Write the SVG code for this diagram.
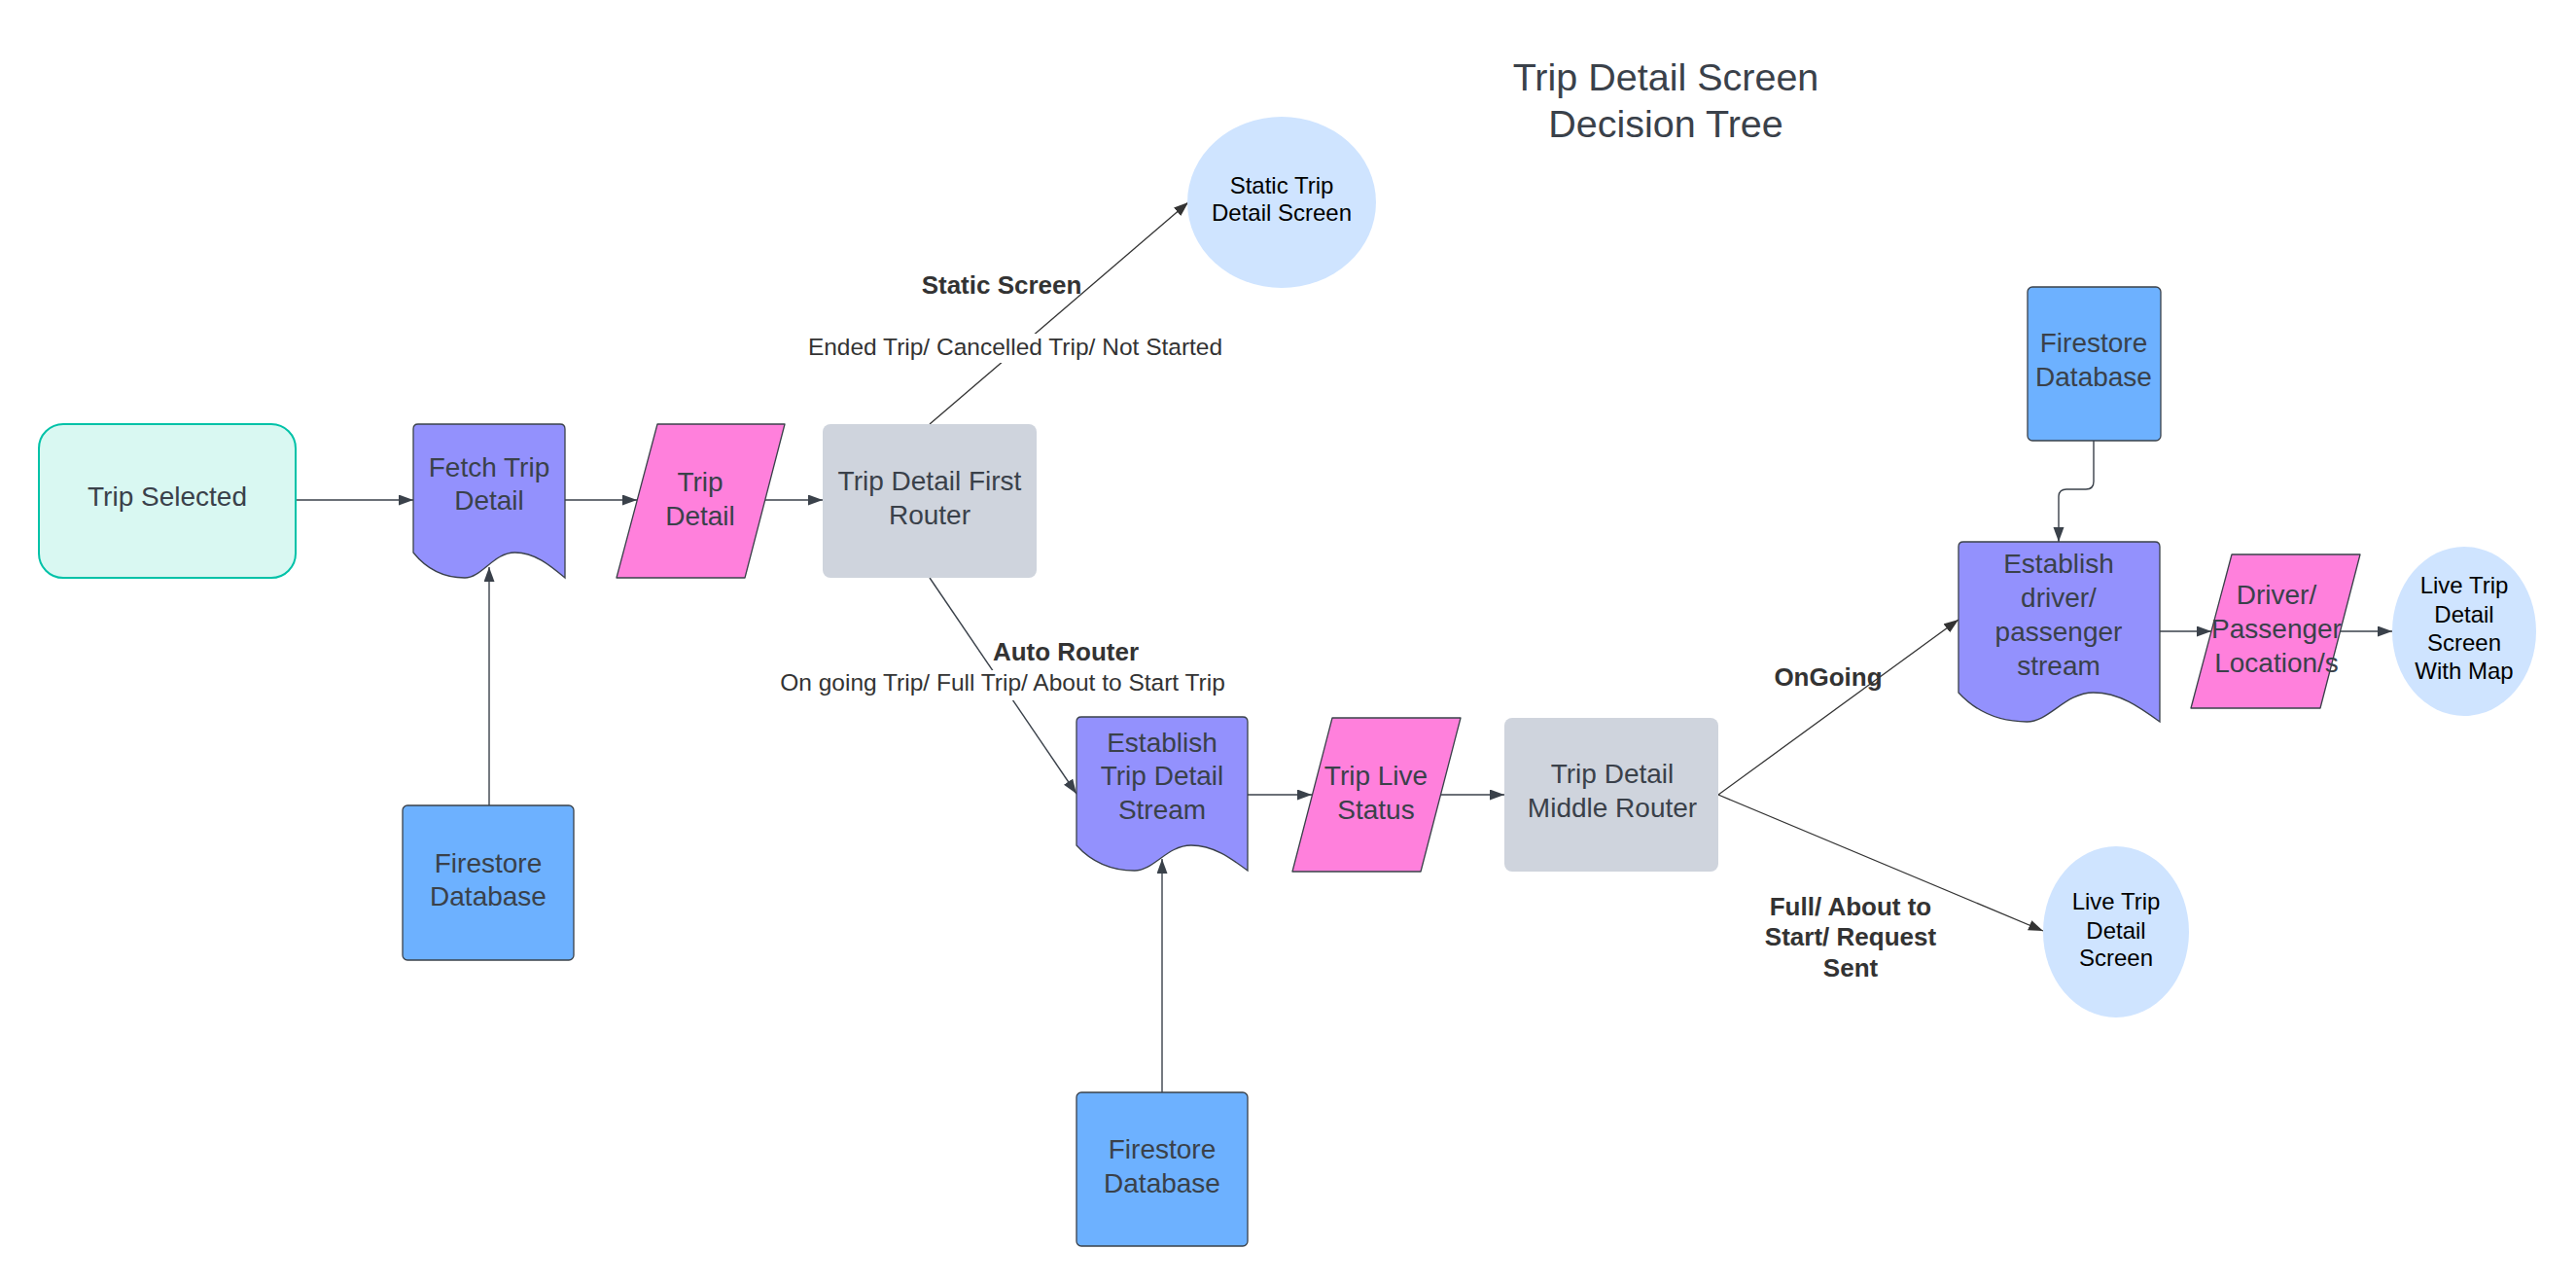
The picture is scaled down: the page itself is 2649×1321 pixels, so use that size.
<svg xmlns="http://www.w3.org/2000/svg" width="2649" height="1321" viewBox="0 0 2649 1321">
<style>
.bg{fill:#ffffff}
.t{font-family:"Liberation Sans",Arial,sans-serif;font-size:28px;fill:#3a414a;text-anchor:middle}
.te{font-family:"Liberation Sans",Arial,sans-serif;font-size:24px;fill:#000000;text-anchor:middle}
.lb{font-family:"Liberation Sans",Arial,sans-serif;font-size:26px;font-weight:bold;fill:#333333;text-anchor:middle}
.ln{font-family:"Liberation Sans",Arial,sans-serif;font-size:24.5px;fill:#333333;text-anchor:middle}
.title{font-family:"Liberation Sans",Arial,sans-serif;font-size:39.5px;fill:#3a414a;text-anchor:middle}
.doc{fill:#9391fd;stroke:#3a414a;stroke-width:1.3}
.para{fill:#ff80dc;stroke:#3a414a;stroke-width:1.3;stroke-linejoin:round}
.db{fill:#6db1ff;stroke:#3a414a;stroke-width:1.3}
.router{fill:#cfd4dd}
.ell{fill:#cfe4ff}
.c{fill:none;stroke:#3a414a;stroke-width:1.4}
.cb{fill:none;stroke:#333333;stroke-width:1.3}
</style>
<defs>
<marker id="ah" markerUnits="userSpaceOnUse" markerWidth="16" markerHeight="12" refX="15" refY="5.5" orient="auto">
<path d="M0,0 L15,5.5 L0,11 Z" fill="#3a414a"/>
</marker>
<marker id="ahb" markerUnits="userSpaceOnUse" markerWidth="16" markerHeight="12" refX="15" refY="5.5" orient="auto">
<path d="M0,0 L15,5.5 L0,11 Z" fill="#333333"/>
</marker>
</defs>
<rect class="bg" x="0" y="0" width="2649" height="1321"/>

<g id="title">
<text class="title" x="1713" y="93">Trip Detail Screen</text>
<text class="title" x="1713" y="141">Decision Tree</text>
</g>

<g id="connectors">
<path class="c" d="M304,514 H425" marker-end="url(#ah)"/>
<path class="c" d="M581,514 H655" marker-end="url(#ah)"/>
<path class="c" d="M787,514 H846" marker-end="url(#ah)"/>
<path class="c" d="M503,828 V583" marker-end="url(#ah)"/>
<path class="cb" d="M956,436 L1222,208" marker-end="url(#ahb)"/>
<path class="c" d="M956,594 L1107,816" marker-end="url(#ah)"/>
<path class="c" d="M1195,1123 V883" marker-end="url(#ah)"/>
<path class="c" d="M1283,817 H1349" marker-end="url(#ah)"/>
<path class="c" d="M1481,817 H1547" marker-end="url(#ah)"/>
<path class="cb" d="M1767,817 L2014,637" marker-end="url(#ahb)"/>
<path class="cb" d="M1767,817 L2101,957" marker-end="url(#ahb)"/>
<path class="c" d="M2153,453 V495 Q2153,503 2145,503 H2125 Q2117,503 2117,511 V557" marker-end="url(#ah)"/>
<path class="c" d="M2221,649 H2274" marker-end="url(#ah)"/>
<path class="c" d="M2406,649 H2460" marker-end="url(#ah)"/>
</g>

<g id="labels">
<text class="lb" x="1030" y="302">Static Screen</text>
<rect x="824" y="343" width="440" height="30" fill="#ffffff"/>
<text class="ln" x="1044" y="365">Ended Trip/ Cancelled Trip/ Not Started</text>
<text class="lb" x="1096" y="679">Auto Router</text>
<rect x="795" y="689" width="473" height="31" fill="#ffffff"/>
<text class="ln" x="1031" y="710">On going Trip/ Full Trip/ About to Start Trip</text>
<text class="lb" x="1880" y="705">OnGoing</text>
<text class="lb" x="1903" y="941">Full/ About to</text>
<text class="lb" x="1903" y="972">Start/ Request</text>
<text class="lb" x="1903" y="1004">Sent</text>
</g>

<g id="trip-selected">
<rect x="40" y="436" width="264" height="158" rx="25" fill="#d9f8f2" stroke="#00c2a8" stroke-width="2"/>
<text class="t" x="172" y="520">Trip Selected</text>
</g>

<g id="fetch-trip-detail">
<path class="doc" d="M425,441 Q425,436 430,436 H576 Q581,436 581,441 V594 C565.4,581 549.8,568 529.5,568 C507.7,568 495.2,594 478,594 C459.3,594 440.6,587.5 425,568 Z"/>
<text class="t" x="503" y="490">Fetch Trip</text>
<text class="t" x="503" y="524">Detail</text>
</g>

<g id="trip-detail">
<polygon class="para" points="676,436 807,436 766,594 634,594"/>
<text class="t" x="720" y="505">Trip</text>
<text class="t" x="720" y="540">Detail</text>
</g>

<g id="first-router">
<rect class="router" x="846" y="436" width="220" height="158" rx="8"/>
<text class="t" x="956" y="504">Trip Detail First</text>
<text class="t" x="956" y="539">Router</text>
</g>

<g id="firestore-1">
<rect class="db" x="414" y="828" width="176" height="159" rx="5"/>
<text class="t" x="502" y="897">Firestore</text>
<text class="t" x="502" y="931">Database</text>
</g>

<g id="static-screen">
<ellipse class="ell" cx="1318" cy="208" rx="97" ry="88"/>
<text class="te" x="1318" y="199">Static Trip</text>
<text class="te" x="1318" y="227">Detail Screen</text>
</g>

<g id="establish-trip-detail-stream">
<path class="doc" d="M1107,742 Q1107,737 1112,737 H1278 Q1283,737 1283,742 V895 C1265.4,882 1247.8,869 1224.9,869 C1200.3,869 1186.2,895 1166.8,895 C1145.7,895 1124.6,888.5 1107,869 Z"/>
<text class="t" x="1195" y="773">Establish</text>
<text class="t" x="1195" y="807">Trip Detail</text>
<text class="t" x="1195" y="842">Stream</text>
</g>

<g id="firestore-2">
<rect class="db" x="1107" y="1123" width="176" height="158" rx="5"/>
<text class="t" x="1195" y="1191">Firestore</text>
<text class="t" x="1195" y="1226">Database</text>
</g>

<g id="trip-live-status">
<polygon class="para" points="1370,738 1502,738 1461,896 1329,896"/>
<text class="t" x="1415" y="807">Trip Live</text>
<text class="t" x="1415" y="842">Status</text>
</g>

<g id="middle-router">
<rect class="router" x="1547" y="738" width="220" height="158" rx="8"/>
<text class="t" x="1658" y="805">Trip Detail</text>
<text class="t" x="1658" y="840">Middle Router</text>
</g>

<g id="firestore-3">
<rect class="db" x="2085" y="295" width="137" height="158" rx="5"/>
<text class="t" x="2153" y="362">Firestore</text>
<text class="t" x="2153" y="397">Database</text>
</g>

<g id="establish-driver-stream">
<path class="doc" d="M2014,562 Q2014,557 2019,557 H2216 Q2221,557 2221,562 V742 C2200.3,727 2179.6,712 2152.7,712 C2123.7,712 2107.2,742 2084.4,742 C2059.5,742 2034.7,734.5 2014,712 Z"/>
<text class="t" x="2117" y="589">Establish</text>
<text class="t" x="2117" y="624">driver/</text>
<text class="t" x="2117" y="659">passenger</text>
<text class="t" x="2117" y="694">stream</text>
</g>

<g id="driver-passenger-location">
<polygon class="para" points="2295,570 2427,570 2386,728 2253,728"/>
<text class="t" x="2341" y="621">Driver/</text>
<text class="t" x="2341" y="656">Passenger</text>
<text class="t" x="2341" y="691">Location/s</text>
</g>

<g id="live-trip-map">
<ellipse class="ell" cx="2534" cy="649" rx="74" ry="87"/>
<text class="te" x="2534" y="610">Live Trip</text>
<text class="te" x="2534" y="640">Detail</text>
<text class="te" x="2534" y="669">Screen</text>
<text class="te" x="2534" y="698">With Map</text>
</g>

<g id="live-trip-screen">
<ellipse class="ell" cx="2176" cy="958" rx="75" ry="88"/>
<text class="te" x="2176" y="935">Live Trip</text>
<text class="te" x="2176" y="965">Detail</text>
<text class="te" x="2176" y="993">Screen</text>
</g>
</svg>
